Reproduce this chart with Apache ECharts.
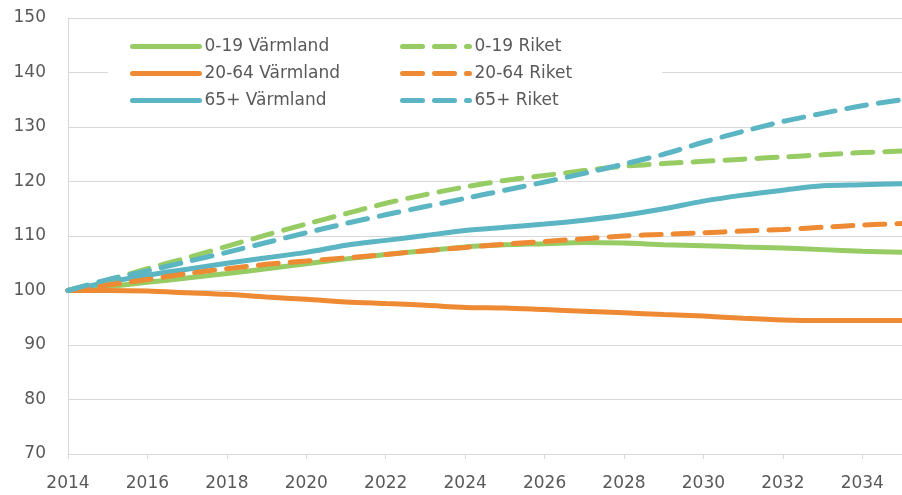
<!DOCTYPE html>
<html>
<head>
<meta charset="utf-8">
<script src="https://cdn.jsdelivr.net/npm/echarts@6/dist/echarts.min.js"></script>
<style>
  html, body { margin: 0; padding: 0; background: #fff; }
  #chart { width: 902px; height: 495px; }
</style>
</head>
<body>
<div id="chart"></div>
<script>
var myChart = echarts.init(document.getElementById('chart'));

var years = ['2014', '2015', '2016', '2017', '2018', '2019', '2020', '2021', '2022', '2023', '2024',
    '2025', '2026', '2027', '2028', '2029', '2030', '2031', '2032', '2033', '2034', '2035'];

// Värmland
var varm0_19 = [100, 100.7, 101.5, 102.3, 103.1, 104.0, 104.9, 105.8, 106.6, 107.3, 108.0,
    108.4, 108.6, 108.8, 108.7, 108.4, 108.2, 108.0, 107.8, 107.5, 107.2, 107.0];
var varm20_64 = [100, 100.0, 99.9, 99.6, 99.3, 98.8, 98.4, 97.9, 97.6, 97.3, 96.9,
    96.8, 96.5, 96.2, 95.9, 95.6, 95.3, 94.9, 94.6, 94.5, 94.5, 94.5];
var varm65 = [100, 101.5, 102.8, 103.9, 105.0, 106.0, 107.0, 108.3, 109.2, 110.1, 111.0,
    111.6, 112.2, 112.9, 113.8, 115.0, 116.4, 117.5, 118.4, 119.2, 119.4, 119.6];

// Riket
var rik0_19 = [100, 101.9, 104.0, 106.0, 108.1, 110.2, 112.2, 114.1, 116.0, 117.6, 119.0,
    120.2, 121.1, 122.0, 122.8, 123.3, 123.7, 124.1, 124.5, 124.9, 125.3, 125.6];
var rik20_64 = [100, 101.0, 102.0, 103.1, 104.0, 104.8, 105.4, 106.0, 106.6, 107.3, 107.9,
    108.5, 109.0, 109.5, 110.0, 110.3, 110.6, 110.9, 111.2, 111.6, 112.0, 112.3];
var rik65 = [100, 102.0, 103.6, 105.3, 107.0, 108.8, 110.6, 112.3, 113.9, 115.4, 116.9,
    118.4, 119.9, 121.5, 123.2, 125.0, 127.2, 129.2, 131.0, 132.5, 133.9, 135.0];

var green = '#97cc64';
var orange = '#ee8a33';
var teal = '#5bb5c3';

function mkLine(name, data, color, dashed) {
    return {
        name: name,
        type: 'line',
        data: data,
        symbol: 'none',
        smooth: 0.3,
        lineStyle: { color: color, width: 5, type: dashed ? [20, 12] : 'solid', cap: 'round' },
        itemStyle: { color: color }
    };
}

var textColor = '#595959';
var fontFam = '"DejaVu Sans", sans-serif';

function mkLegend(names, left, padding) {
    return {
        data: names,
        orient: 'vertical',
        left: left, top: 33,
        padding: padding,
        backgroundColor: '#fff',
        itemWidth: 67, itemHeight: 12, itemGap: 10,
        itemStyle: { opacity: 0 },
        lineStyle: { width: 5, cap: 'round' },
        textStyle: { fontSize: 17, color: textColor, fontFamily: fontFam }
    };
}

myChart.setOption({
    animation: false,
    grid: { left: 68, top: 18, bottom: 41, right: -10 },
    legend: [
        mkLegend(['0-19 Värmland', '20-64 Värmland', '65+ Värmland'], 108, [5, 60, 5, 22]),
        mkLegend(['0-19 Riket', '20-64 Riket', '65+ Riket'], 398, [5, 90, 5, 2])
    ],
    xAxis: {
        type: 'category',
        data: years,
        boundaryGap: false,
        axisLine: { lineStyle: { color: '#d9d9d9', width: 1 } },
        axisTick: { show: true, interval: 1, length: 5, lineStyle: { color: '#d9d9d9' } },
        axisLabel: { interval: 1, margin: 21, fontSize: 17, color: textColor, fontFamily: fontFam }
    },
    yAxis: {
        type: 'value',
        min: 70, max: 150, interval: 10,
        axisLine: { show: true, lineStyle: { color: '#d9d9d9', width: 1 } },
        axisTick: { show: false },
        splitLine: { lineStyle: { color: '#d9d9d9', width: 1 } },
        axisLabel: { margin: 22, fontSize: 17, color: textColor, fontFamily: fontFam }
    },
    series: [
        mkLine('0-19 Värmland', varm0_19, green, false),
        mkLine('20-64 Värmland', varm20_64, orange, false),
        mkLine('65+ Värmland', varm65, teal, false),
        mkLine('0-19 Riket', rik0_19, green, true),
        mkLine('20-64 Riket', rik20_64, orange, true),
        mkLine('65+ Riket', rik65, teal, true)
    ]
});
</script>
</body>
</html>
